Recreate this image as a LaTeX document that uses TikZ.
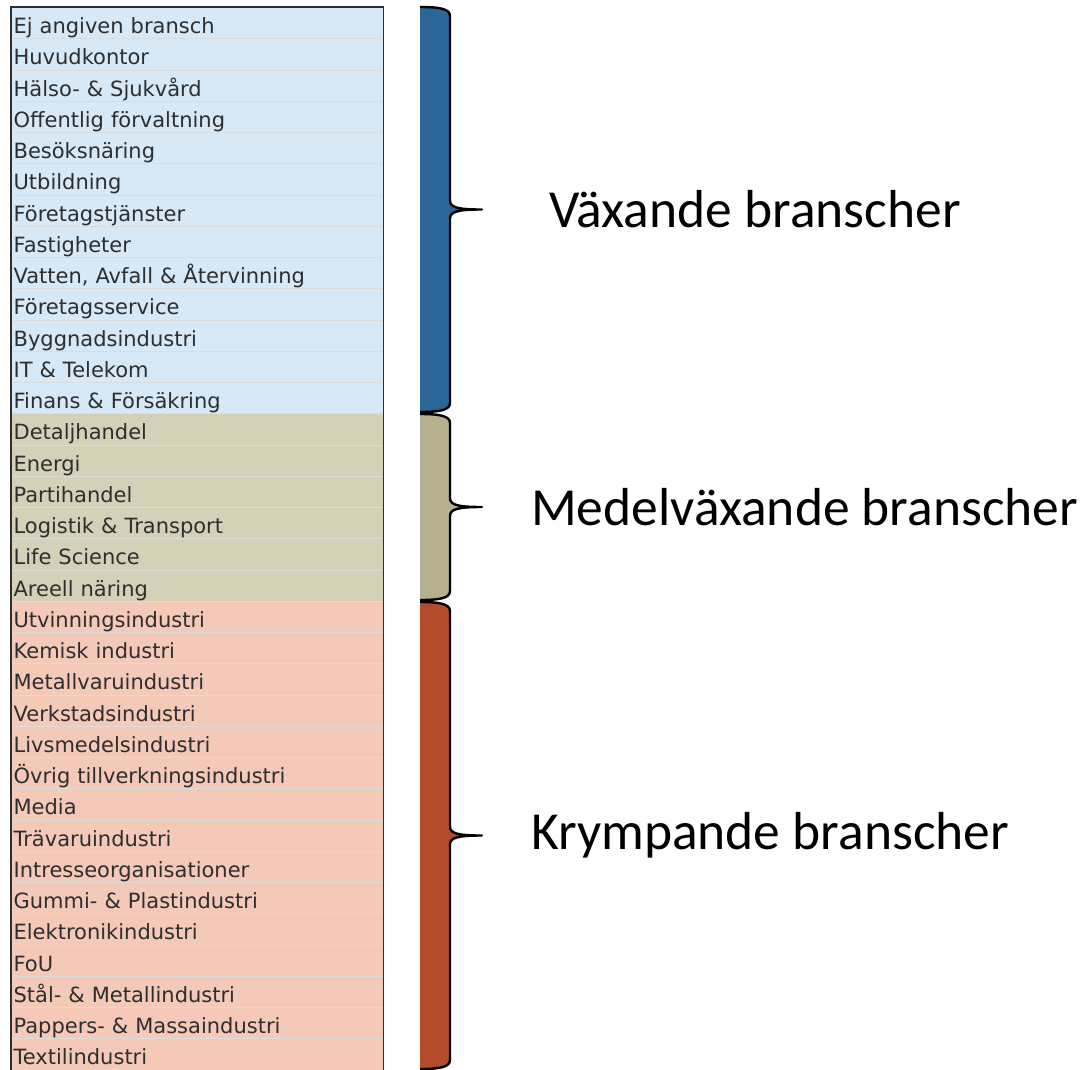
\documentclass[tikz,border=0pt]{standalone}
\usepackage{fontspec}
\setmainfont{DejaVu Sans}
\newfontfamily\labelfont{Carlito}
\usetikzlibrary{positioning}
\definecolor{vaxrow}{HTML}{D7E8F6}
\definecolor{medrow}{HTML}{D5D0B8}
\definecolor{krymprow}{HTML}{F4C9B8}
\definecolor{vaxbar}{HTML}{2C6699}
\definecolor{medbar}{HTML}{B5B08F}
\definecolor{krympbar}{HTML}{B44C2C}
\definecolor{rowline}{HTML}{DCDCDC}
\definecolor{rowtext}{HTML}{2E2E2E}
\tikzset{
  rowbox/.style={draw=rowline, line width=1.2pt, anchor=north west, text width=367.5pt,
    align=left, inner xsep=2pt, inner ysep=0pt, minimum height=31.25pt,
    text height=21pt, text depth=0pt, text=rowtext, font=\fontsize{21}{24}\selectfont},
  grouplabel/.style={anchor=west, inner sep=0pt, font=\labelfont\fontsize{53.5}{60}\selectfont},
  bracestroke/.style={line width=2.4pt, line join=round}
}
\def\bracebar[#1](#2:#3){%
  \pgfmathsetmacro\bmid{(#2+#3)/2}
  \fill[#1] (420,#2) .. controls (440,#2) and (450,#2+2) .. (450,#2+9) -- (450,\bmid-9)
    .. controls (450,\bmid-2) and (458,\bmid) .. (482,\bmid)
    .. controls (458,\bmid) and (450,\bmid+2) .. (450,\bmid+9) -- (450,#3-9)
    .. controls (450,#3-2) and (440,#3) .. (420,#3) -- cycle;
  \draw[bracestroke] (420,#2) .. controls (440,#2) and (450,#2+2) .. (450,#2+9) -- (450,\bmid-9)
    .. controls (450,\bmid-2) and (458,\bmid) .. (482,\bmid)
    .. controls (458,\bmid) and (450,\bmid+2) .. (450,\bmid+9) -- (450,#3-9)
    .. controls (450,#3-2) and (440,#3) .. (420,#3);}

\begin{document}
\begin{tikzpicture}[x=1pt, y=-1pt]
		%%%%% START %%%%%
		\useasboundingbox (0,0) rectangle (1084,1069);
		
		% vaxande
		\node[rowbox, fill=vaxrow] (r1) at (11, 7) {Ej angiven bransch};
		\node[rowbox, fill=vaxrow] (r2) at (11, 38.25) {Huvudkontor};
		\node[rowbox, fill=vaxrow] (r3) at (11, 69.5) {Hälso- \& Sjukvård};
		\node[rowbox, fill=vaxrow] (r4) at (11, 100.75) {Offentlig förvaltning};
		\node[rowbox, fill=vaxrow] (r5) at (11, 132) {Besöksnäring};
		\node[rowbox, fill=vaxrow] (r6) at (11, 163.25) {Utbildning};
		\node[rowbox, fill=vaxrow] (r7) at (11, 194.5) {Företagstjänster};
		\node[rowbox, fill=vaxrow] (r8) at (11, 225.75) {Fastigheter};
		\node[rowbox, fill=vaxrow] (r9) at (11, 257) {Vatten, Avfall \& Återvinning};
		\node[rowbox, fill=vaxrow] (r10) at (11, 288.25) {Företagsservice};
		\node[rowbox, fill=vaxrow] (r11) at (11, 319.5) {Byggnadsindustri};
		\node[rowbox, fill=vaxrow] (r12) at (11, 350.75) {IT \& Telekom};
		\node[rowbox, fill=vaxrow] (r13) at (11, 382) {Finans \& Försäkring};
		
		% medelvaxande
		\node[rowbox, fill=medrow] (r14) at (11, 413.25) {Detaljhandel};
		\node[rowbox, fill=medrow] (r15) at (11, 444.5) {Energi};
		\node[rowbox, fill=medrow] (r16) at (11, 475.75) {Partihandel};
		\node[rowbox, fill=medrow] (r17) at (11, 507) {Logistik \& Transport};
		\node[rowbox, fill=medrow] (r18) at (11, 538.25) {Life Science};
		\node[rowbox, fill=medrow] (r19) at (11, 569.5) {Areell näring};
		
		% krympande
		\node[rowbox, fill=krymprow] (r20) at (11, 600.75) {Utvinningsindustri};
		\node[rowbox, fill=krymprow] (r21) at (11, 632) {Kemisk industri};
		\node[rowbox, fill=krymprow] (r22) at (11, 663.25) {Metallvaruindustri};
		\node[rowbox, fill=krymprow] (r23) at (11, 694.5) {Verkstadsindustri};
		\node[rowbox, fill=krymprow] (r24) at (11, 725.75) {Livsmedelsindustri};
		\node[rowbox, fill=krymprow] (r25) at (11, 757) {Övrig tillverkningsindustri};
		\node[rowbox, fill=krymprow] (r26) at (11, 788.25) {Media};
		\node[rowbox, fill=krymprow] (r27) at (11, 819.5) {Trävaruindustri};
		\node[rowbox, fill=krymprow] (r28) at (11, 850.75) {Intresseorganisationer};
		\node[rowbox, fill=krymprow] (r29) at (11, 882) {Gummi- \& Plastindustri};
		\node[rowbox, fill=krymprow] (r30) at (11, 913.25) {Elektronikindustri};
		\node[rowbox, fill=krymprow] (r31) at (11, 944.5) {FoU};
		\node[rowbox, fill=krymprow] (r32) at (11, 975.75) {Stål- \& Metallindustri};
		\node[rowbox, fill=krymprow] (r33) at (11, 1007) {Pappers- \& Massaindustri};
		\node[rowbox, fill=krymprow] (r34) at (11, 1038.25) {Textilindustri};
		
		\draw[line width=1.5pt, color=rowtext] (r1.north west) rectangle (r34.south east);
		
		\bracebar[vaxbar](7:412);
		\bracebar[medbar](414:600);
		\bracebar[krympbar](602:1069);
		
		\coordinate (vaxtip) at (482, 209.5);
		\coordinate (medtip) at (482, 507);
		\coordinate (krymptip) at (482, 835.5);
		
		\node[grouplabel, right=67pt of vaxtip] (vaxlabel) {Växande branscher};
		\node[grouplabel, right=49pt of medtip] (medlabel) {Medelväxande branscher};
		\node[grouplabel, right=49pt of krymptip] (krymplabel) {Krympande branscher};
		
		%%%%% END %%%%%
	\end{tikzpicture}
\end{document}
